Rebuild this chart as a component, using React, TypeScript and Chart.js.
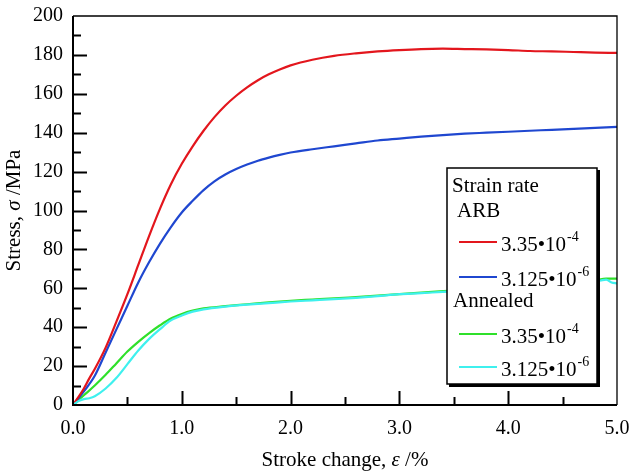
import React, { useEffect, useRef } from "react";
import { Chart, registerables } from "chart.js";

Chart.register(...registerables);

// ---- Data ----
const arbFastX = [0, 0.1, 0.15, 0.2, 0.3, 0.4, 0.5, 0.6, 0.7, 0.8, 0.9, 1.0, 1.1, 1.2, 1.3, 1.4, 1.5, 1.6, 1.7, 1.8, 1.9, 2.0, 2.2, 2.4, 2.6, 2.8, 3.0, 3.2, 3.4, 3.6, 3.8, 4.0, 4.2, 4.4, 4.6, 4.8, 5.0];
const arbFastY = [0, 8.5, 13.7, 18.5, 29.5, 43, 57, 72, 87, 101, 113.5, 124, 133, 141, 148, 154, 159, 163.3, 167, 170, 172.5, 174.6, 177.5, 179.5, 180.8, 181.8, 182.5, 183, 183.2, 183, 182.8, 182.5, 182, 181.8, 181.5, 181.2, 181];

const arbSlowX = [0, 0.1, 0.2, 0.3, 0.4, 0.5, 0.6, 0.7, 0.8, 0.9, 1.0, 1.1, 1.2, 1.3, 1.4, 1.5, 1.6, 1.7, 1.8, 1.9, 2.0, 2.2, 2.4, 2.6, 2.8, 3.0, 3.2, 3.4, 3.6, 3.8, 4.0, 4.2, 4.4, 4.6, 4.8, 5.0];
const arbSlowY = [0, 7, 15, 27, 39, 51, 63, 73.5, 83, 91.5, 99, 105, 110.5, 115, 118.5, 121.3, 123.6, 125.6, 127.2, 128.6, 129.8, 131.5, 133, 134.5, 136, 137, 138, 138.8, 139.5, 140, 140.5, 141, 141.5, 142, 142.5, 143];

const annFastX = [0, 0.1, 0.2, 0.3, 0.4, 0.5, 0.6, 0.7, 0.8, 0.9, 1.0, 1.1, 1.2, 1.4, 1.6, 1.8, 2.0, 2.2, 2.4, 2.6, 2.8, 3.0, 3.2, 3.4, 3.6, 3.8, 4.0, 4.2, 4.4, 4.6, 4.8, 4.9, 5.0];
const annFastY = [0, 5, 10, 15.5, 21.5, 27.5, 32.5, 37, 41, 44.5, 46.8, 48.5, 49.7, 50.8, 51.8, 52.8, 53.6, 54.2, 54.8, 55.5, 56.2, 57, 57.8, 58.5, 59, 59.5, 60, 61, 62, 63, 64, 65, 65];

const annSlowX = [0, 0.05, 0.1, 0.15, 0.2, 0.3, 0.4, 0.5, 0.6, 0.7, 0.8, 0.9, 1.0, 1.1, 1.2, 1.4, 1.6, 1.8, 2.0, 2.2, 2.4, 2.6, 2.8, 3.0, 3.2, 3.4, 3.6, 3.8, 4.0, 4.2, 4.4, 4.6, 4.8, 4.85, 4.9, 4.95, 5.0];
const annSlowY = [0, 2, 3, 3.5, 4.5, 8.5, 14, 21, 28, 34, 39, 43.5, 46, 48, 49.2, 50.6, 51.6, 52.4, 53.2, 53.8, 54.4, 55.1, 56, 57, 57.5, 58.2, 58.7, 59.2, 59.8, 60.8, 61.8, 62.8, 63.5, 64, 64.5, 63, 62.5];

const xTickValues = [0, 1, 2, 3, 4, 5];
const yTickValues = [0, 20, 40, 60, 80, 100, 120, 140, 160, 180, 200];

const seriesLabels = ["3.35•10", "3.125•10", "3.35•10", "3.125•10"];
const seriesExponents = ["-4", "-6", "-4", "-6"];
const seriesColors = ["#e3161d", "#1f47d0", "#2fe02a", "#3ff0ee"];
const legendHeaders = ["Strain rate", "ARB", "Annealed"];

const FONT = "'Liberation Serif', 'Times New Roman', serif";

function zip(xs: number[], ys: number[]) {
  return xs.map((x, i) => ({ x, y: ys[i] }));
}

function drawMixed(ctx: CanvasRenderingContext2D, parts: { t: string; it?: boolean }[], size: number, cx: number, cy: number) {
  const fontOf = (it?: boolean) => `${it ? "italic " : ""}${size}px ${FONT}`;
  let total = 0;
  const widths = parts.map((p) => {
    ctx.font = fontOf(p.it);
    const w = ctx.measureText(p.t).width;
    total += w;
    return w;
  });
  let x = cx - total / 2;
  ctx.textBaseline = "middle";
  ctx.textAlign = "left";
  parts.forEach((p, i) => {
    ctx.font = fontOf(p.it);
    ctx.fillText(p.t, x, cy);
    x += widths[i];
  });
}

const zeroPad = (s: any) => {
  s.paddingLeft = 0;
  s.paddingRight = 0;
  s.paddingTop = 0;
  s.paddingBottom = 0;
};

const customPlugin = {
  id: "customDecor",
  afterDatasetsDraw(chart: any) {
    const ctx: CanvasRenderingContext2D = chart.ctx;
    const { left, right, top, bottom } = chart.chartArea;
    const xs = chart.scales.x;
    const ys = chart.scales.y;
    ctx.save();
    ctx.fillStyle = "#000";
    ctx.strokeStyle = "#000";

    // frame
    ctx.lineWidth = 1.3;
    ctx.beginPath();
    ctx.moveTo(left, top);
    ctx.lineTo(right, top);
    ctx.lineTo(right, bottom);
    ctx.stroke();
    ctx.lineWidth = 2;
    ctx.beginPath();
    ctx.moveTo(left, top);
    ctx.lineTo(left, bottom);
    ctx.lineTo(right, bottom);
    ctx.stroke();

    // inward ticks
    ctx.lineWidth = 2;
    ctx.beginPath();
    for (let v = 10; v < 200; v += 10) {
      const y = Math.round(ys.getPixelForValue(v)) + 0.5;
      const len = v % 20 === 0 ? 14 : 8;
      ctx.moveTo(left, y);
      ctx.lineTo(left + len, y);
    }
    for (let v = 0.5; v < 5; v += 0.5) {
      const x = Math.round(xs.getPixelForValue(v)) + 0.5;
      const len = Math.abs(v - Math.round(v)) < 1e-6 ? 14 : 8;
      ctx.moveTo(x, bottom);
      ctx.lineTo(x, bottom - len);
    }
    ctx.stroke();

    // axis titles
    drawMixed(ctx, [{ t: "Stroke change, " }, { t: "ε", it: true }, { t: " /%" }], 21, (left + right) / 2, 460);
    ctx.save();
    ctx.translate(14, (top + bottom) / 2);
    ctx.rotate(-Math.PI / 2);
    drawMixed(ctx, [{ t: "Stress, " }, { t: "σ", it: true }, { t: " /MPa" }], 21, 0, 0);
    ctx.restore();

    // legend box
    const bx = 447, by = 168, bw = 150, bh = 216;
    ctx.fillStyle = "#000";
    ctx.fillRect(bx + 2, by + 2, bw + 1, bh + 1);
    ctx.fillStyle = "#fff";
    ctx.fillRect(bx, by, bw, bh);
    ctx.lineWidth = 1.5;
    ctx.strokeStyle = "#000";
    ctx.strokeRect(bx, by, bw, bh);

    ctx.fillStyle = "#000";
    ctx.textAlign = "left";
    ctx.textBaseline = "alphabetic";
    ctx.font = `21px ${FONT}`;
    ctx.fillText(legendHeaders[0], 452, 192);
    ctx.fillText(legendHeaders[1], 457, 217);
    ctx.fillText(legendHeaders[2], 453, 307);

    const lineYs = [242, 277, 334, 367];
    lineYs.forEach((ly, i) => {
      ctx.strokeStyle = seriesColors[i];
      ctx.lineWidth = 2.2;
      ctx.beginPath();
      ctx.moveTo(459, ly);
      ctx.lineTo(497, ly);
      ctx.stroke();
      ctx.fillStyle = "#000";
      ctx.font = `21px ${FONT}`;
      const base = ly + 9;
      ctx.fillText(seriesLabels[i], 501, base);
      const w = ctx.measureText(seriesLabels[i]).width;
      ctx.font = `14px ${FONT}`;
      ctx.fillText(seriesExponents[i], 501 + w + 1, base - 10);
    });

    ctx.restore();
  },
};

export default function App() {
  const ref = useRef<HTMLCanvasElement | null>(null);
  useEffect(() => {
    document.body.style.margin = "0";
    const canvas = ref.current;
    if (!canvas) return;
    const mk = (xs: number[], ys: number[], i: number, order: number) => ({
      label: seriesLabels[i] + seriesExponents[i],
      data: zip(xs, ys),
      borderColor: seriesColors[i],
      backgroundColor: seriesColors[i],
      borderWidth: 2.2,
      pointRadius: 0,
      cubicInterpolationMode: "monotone" as const,
      fill: false,
      order,
    });
    const chart = new Chart(canvas, {
      type: "line",
      data: {
        datasets: [
          mk(arbFastX, arbFastY, 0, 1),
          mk(arbSlowX, arbSlowY, 1, 2),
          mk(annFastX, annFastY, 2, 3),
          mk(annSlowX, annSlowY, 3, 0),
        ],
      },
      options: {
        animation: false,
        responsive: false,
        maintainAspectRatio: false,
        layout: { padding: { left: 0, top: 16, right: 14, bottom: 0 } },
        plugins: { legend: { display: false }, tooltip: { enabled: false } },
        scales: {
          x: {
            type: "linear",
            min: 0,
            max: 5,
            afterFit: (s: any) => {
              s.height = 69;
              zeroPad(s);
            },
            afterBuildTicks: (s: any) => {
              s.ticks = xTickValues.map((v) => ({ value: v }));
            },
            grid: { display: false, drawTicks: false },
            border: { display: false },
            ticks: {
              padding: 12,
              color: "#000",
              font: { family: FONT, size: 20 },
              maxRotation: 0,
              autoSkip: false,
              callback: (v: any) => Number(v).toFixed(1),
            },
          },
          y: {
            type: "linear",
            min: 0,
            max: 200,
            afterFit: (s: any) => {
              s.width = 73;
              zeroPad(s);
            },
            afterBuildTicks: (s: any) => {
              s.ticks = yTickValues.map((v) => ({ value: v }));
            },
            grid: { display: false, drawTicks: false },
            border: { display: false },
            ticks: {
              padding: 10,
              color: "#000",
              font: { family: FONT, size: 20 },
              autoSkip: false,
              callback: (v: any) => String(v),
            },
          },
        },
      },
      plugins: [customPlugin],
    });
    return () => chart.destroy();
  }, []);
  return (
    <div style={{ width: 631, height: 474, background: "#fff" }}>
      <canvas ref={ref} width={631} height={474} style={{ display: "block" }} />
    </div>
  );
}
